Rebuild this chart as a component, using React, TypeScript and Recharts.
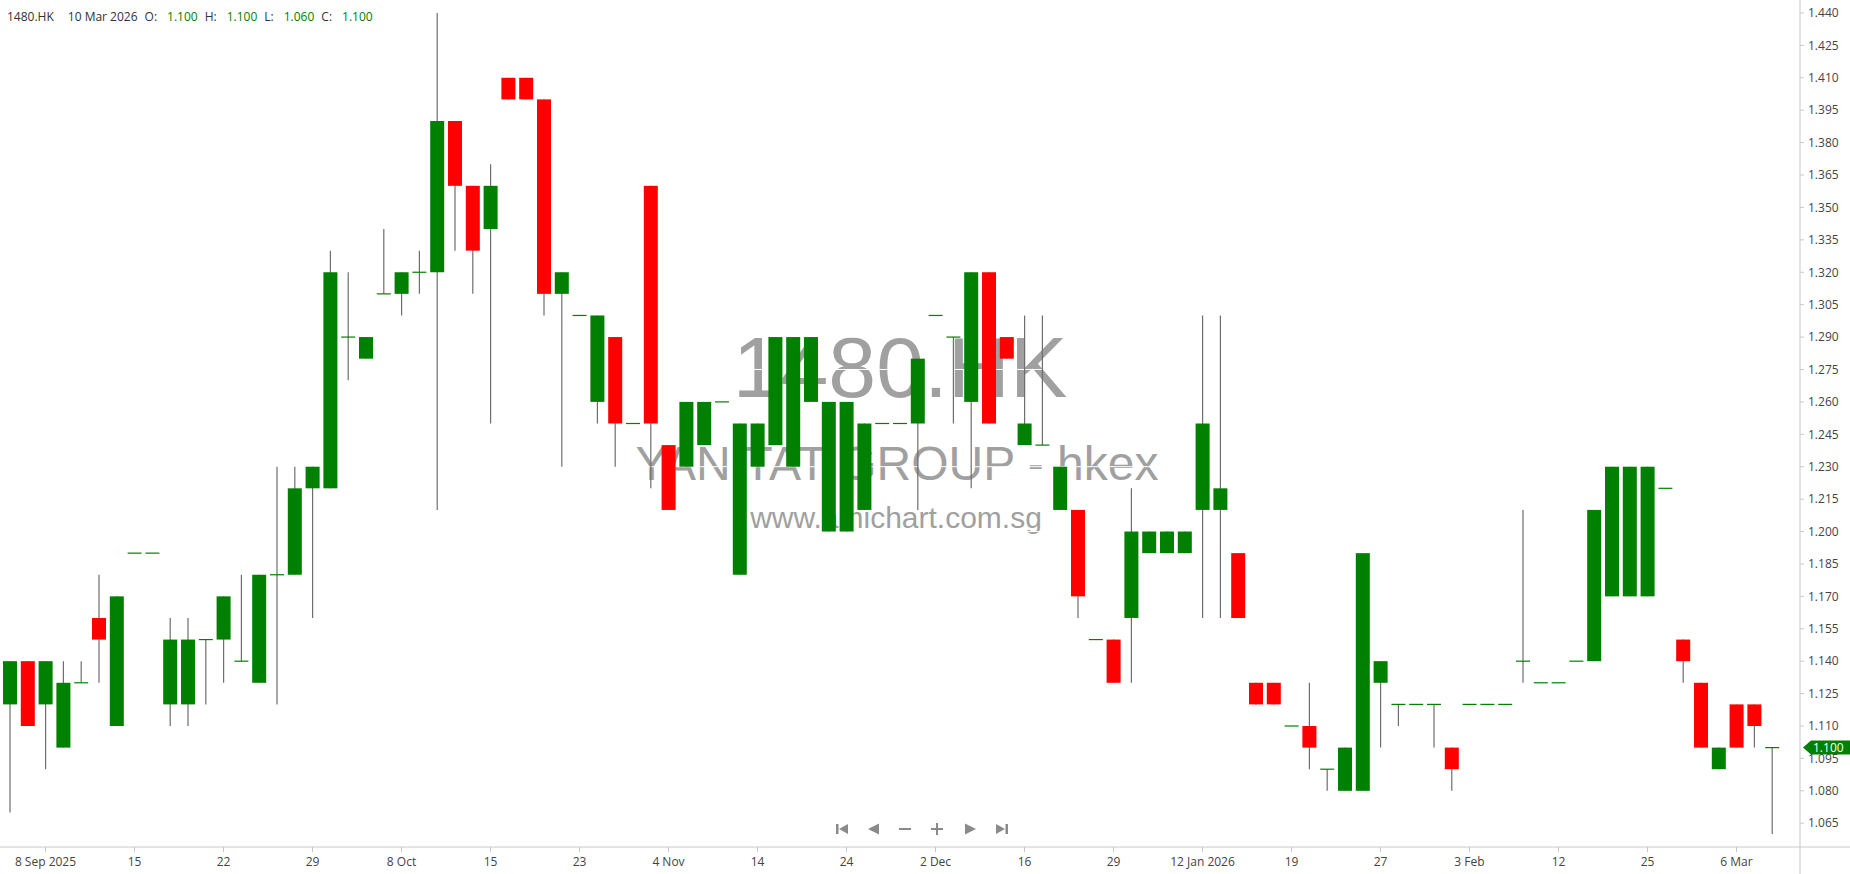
import React from 'react'
import { ComposedChart, Bar, XAxis, YAxis, ReferenceLine, CartesianGrid } from 'recharts'

// daily candles, 4 Sep 2025 .. 10 Mar 2026 (index 0..99)
const OPEN = [
  1.12, 1.14, 1.12, 1.10, 1.13, 1.16, 1.11, 1.19, 1.19, 1.12,
  1.12, 1.15, 1.15, 1.14, 1.13, 1.18, 1.18, 1.22, 1.22, 1.29,
  1.28, 1.31, 1.31, 1.32, 1.32, 1.39, 1.36, 1.34, 1.41, 1.41,
  1.40, 1.31, 1.30, 1.26, 1.29, 1.25, 1.36, 1.24, 1.23, 1.24,
  1.26, 1.18, 1.23, 1.24, 1.23, 1.26, 1.20, 1.20, 1.21, 1.25,
  1.25, 1.25, 1.30, 1.29, 1.26, 1.32, 1.29, 1.24, 1.24, 1.21,
  1.21, 1.15, 1.15, 1.16, 1.19, 1.19, 1.19, 1.21, 1.21, 1.19,
  1.13, 1.13, 1.11, 1.11, 1.09, 1.08, 1.08, 1.13, 1.12, 1.12,
  1.12, 1.10, 1.12, 1.12, 1.12, 1.14, 1.13, 1.13, 1.14, 1.14,
  1.17, 1.17, 1.17, 1.22, 1.15, 1.13, 1.09, 1.12, 1.12, 1.10,
]
const HIGH = [
  1.14, 1.14, 1.14, 1.14, 1.14, 1.18, 1.17, 1.19, 1.19, 1.16,
  1.16, 1.15, 1.17, 1.18, 1.18, 1.23, 1.23, 1.23, 1.33, 1.32,
  1.29, 1.34, 1.32, 1.33, 1.44, 1.39, 1.36, 1.37, 1.41, 1.41,
  1.40, 1.32, 1.30, 1.30, 1.29, 1.25, 1.36, 1.24, 1.26, 1.26,
  1.26, 1.25, 1.25, 1.29, 1.29, 1.29, 1.26, 1.26, 1.25, 1.25,
  1.25, 1.28, 1.30, 1.29, 1.32, 1.32, 1.29, 1.30, 1.30, 1.23,
  1.21, 1.15, 1.15, 1.22, 1.20, 1.20, 1.20, 1.30, 1.30, 1.19,
  1.13, 1.13, 1.11, 1.13, 1.09, 1.10, 1.19, 1.14, 1.12, 1.12,
  1.12, 1.10, 1.12, 1.12, 1.12, 1.21, 1.13, 1.13, 1.14, 1.21,
  1.23, 1.23, 1.23, 1.22, 1.15, 1.13, 1.10, 1.12, 1.12, 1.10,
]
const LOW = [
  1.07, 1.11, 1.09, 1.10, 1.13, 1.13, 1.11, 1.19, 1.19, 1.11,
  1.11, 1.12, 1.13, 1.14, 1.13, 1.12, 1.18, 1.16, 1.22, 1.27,
  1.28, 1.31, 1.30, 1.31, 1.21, 1.33, 1.31, 1.25, 1.40, 1.40,
  1.30, 1.23, 1.30, 1.25, 1.23, 1.25, 1.22, 1.21, 1.23, 1.24,
  1.26, 1.18, 1.23, 1.24, 1.23, 1.26, 1.20, 1.20, 1.21, 1.25,
  1.25, 1.21, 1.30, 1.25, 1.22, 1.25, 1.28, 1.24, 1.24, 1.21,
  1.16, 1.15, 1.13, 1.13, 1.19, 1.19, 1.19, 1.16, 1.16, 1.16,
  1.12, 1.12, 1.11, 1.09, 1.08, 1.08, 1.08, 1.10, 1.11, 1.12,
  1.10, 1.08, 1.12, 1.12, 1.12, 1.13, 1.13, 1.13, 1.14, 1.14,
  1.17, 1.17, 1.17, 1.22, 1.13, 1.10, 1.09, 1.10, 1.10, 1.06,
]
const CLOSE = [
  1.14, 1.11, 1.14, 1.13, 1.13, 1.15, 1.17, 1.19, 1.19, 1.15,
  1.15, 1.15, 1.17, 1.14, 1.18, 1.18, 1.22, 1.23, 1.32, 1.29,
  1.29, 1.31, 1.32, 1.32, 1.39, 1.36, 1.33, 1.36, 1.40, 1.40,
  1.31, 1.32, 1.30, 1.30, 1.25, 1.25, 1.25, 1.21, 1.26, 1.26,
  1.26, 1.25, 1.25, 1.29, 1.29, 1.29, 1.26, 1.26, 1.25, 1.25,
  1.25, 1.28, 1.30, 1.29, 1.32, 1.25, 1.28, 1.25, 1.24, 1.23,
  1.17, 1.15, 1.13, 1.20, 1.20, 1.20, 1.20, 1.25, 1.22, 1.16,
  1.12, 1.12, 1.11, 1.10, 1.09, 1.10, 1.19, 1.14, 1.12, 1.12,
  1.12, 1.09, 1.12, 1.12, 1.12, 1.14, 1.13, 1.13, 1.14, 1.21,
  1.23, 1.23, 1.23, 1.22, 1.14, 1.10, 1.10, 1.10, 1.11, 1.10,
]

const TICK_INDEX = [2, 7, 12, 17, 22, 27, 32, 37, 42, 47, 52, 57, 62, 67, 72, 77, 82, 87, 92, 97]
const TICK_LABELS = [
  '8 Sep 2025', '15', '22', '29', '8 Oct', '15', '23', '4 Nov', '14', '24',
  '2 Dec', '16', '29', '12 Jan 2026', '19', '27', '3 Feb', '12', '25', '6 Mar',
]
const PRICE_TICKS = [
  1.065, 1.08, 1.095, 1.11, 1.125, 1.14, 1.155, 1.17, 1.185, 1.2, 1.215, 1.23, 1.245,
  1.26, 1.275, 1.29, 1.305, 1.32, 1.335, 1.35, 1.365, 1.38, 1.395, 1.41, 1.425, 1.44,
]

const UP = '#008000'
const DOWN = '#ff0000'
const WICK = '#6e6e6e'
const AXIS = '#c8c8c8'
const FONT = '"Open Sans", sans-serif'

const data = OPEN.map((o, i) => ({ i, open: o, high: HIGH[i], low: LOW[i], close: CLOSE[i] }))
const last = data[data.length - 1]

function Candle(props: any) {
  const { x, y, width, height, payload } = props
  if (x == null || y == null) return null
  const top = Math.min(y, y + height)
  const bottom = Math.max(y, y + height)
  const { open, high, low, close } = payload
  const span = high - low
  // linear map inside the high/low range the library already placed
  const toY = (v: number) => (span > 0 ? top + ((high - v) / span) * (bottom - top) : top)
  const cx = x + width / 2
  const color = close >= open ? UP : DOWN
  const bTop = toY(Math.max(open, close))
  const bBot = toY(Math.min(open, close))
  return (
    <g>
      {span > 0 && <line x1={cx} x2={cx} y1={top} y2={bottom} stroke={WICK} strokeWidth={1.2} />}
      {bBot - bTop >= 1 ? (
        <rect x={x} y={bTop} width={width} height={bBot - bTop} fill={color} />
      ) : (
        <line x1={x} x2={x + width} y1={bTop} y2={bTop} stroke={color} strokeWidth={1.2} />
      )}
    </g>
  )
}

function PriceFlag({ viewBox, value }: any) {
  if (!viewBox) return null
  const x = viewBox.x + viewBox.width + 3
  const y = viewBox.y
  return (
    <g>
      <polygon
        points={`${x},${y} ${x + 8},${y - 7} ${x + 48},${y - 7} ${x + 48},${y + 7} ${x + 8},${y + 7}`}
        fill={UP}
      />
      <text x={x + 10} y={y + 4} fill="#fff" fontSize={12} fontFamily={FONT}>
        {value}
      </text>
    </g>
  )
}

function NavIcons() {
  const c = '#8a8a8a'
  const cy = 829
  return (
    <svg width={1850} height={874} style={{ position: 'absolute', left: 0, top: 0, pointerEvents: 'none' }}>
      <line x1={1800} x2={1800} y1={847} y2={874} stroke={AXIS} />
      <line x1={1800} x2={1850} y1={847} y2={847} stroke={AXIS} />
      <rect x={836} y={cy - 5} width={2.5} height={10} fill={c} />
      <polygon points={`${839},${cy} ${848},${cy - 5} ${848},${cy + 5}`} fill={c} />
      <polygon points={`${868},${cy} ${879},${cy - 5.5} ${879},${cy + 5.5}`} fill={c} />
      <rect x={899} y={cy - 1} width={12} height={2} fill={c} />
      <rect x={931} y={cy - 1} width={12} height={2} fill={c} />
      <rect x={936} y={cy - 6} width={2} height={12} fill={c} />
      <polygon points={`${976},${cy} ${965},${cy - 5.5} ${965},${cy + 5.5}`} fill={c} />
      <polygon points={`${1005},${cy} ${996},${cy - 5} ${996},${cy + 5}`} fill={c} />
      <rect x={1005.5} y={cy - 5} width={2.5} height={10} fill={c} />
    </svg>
  )
}

export default function App() {
  const fmt = (v: number) => v.toFixed(3)
  return (
    <div style={{ position: 'absolute', left: 0, top: 0, width: 1850, height: 874, background: '#fff', overflow: 'hidden' }}>
      {/* watermark, behind the grid and candles */}
      <svg width={1850} height={874} style={{ position: 'absolute', left: 0, top: 0 }}>
        <g fill="#a0a0a0" fontFamily='"Liberation Sans", Arial, sans-serif' textAnchor="middle">
          <text x={900} y={397} fontSize={86}>1480.HK</text>
          <text x={897} y={480} fontSize={48}>YAN TAT GROUP - hkex</text>
          <text x={896} y={528} fontSize={30}>www.amichart.com.sg</text>
        </g>
      </svg>

      <div style={{ position: 'absolute', left: 0, top: 0 }}>
        <ComposedChart width={1850} height={874} data={data} margin={{ top: 0, right: 0, bottom: 0, left: 0 }}>
          {/* white grid only shows where it crosses the watermark */}
          <CartesianGrid vertical={false} stroke="#ffffff" strokeWidth={1} />
          <XAxis
            dataKey="i"
            type="category"
            ticks={TICK_INDEX}
            interval={0}
            tickFormatter={(v: number) => TICK_LABELS[TICK_INDEX.indexOf(v)]}
            padding={{ left: 1, right: 19 }}
            height={27}
            axisLine={{ stroke: AXIS }}
            tickLine={{ stroke: AXIS }}
            tickSize={5}
            tickMargin={5}
            tick={{ fill: '#444', fontSize: 12, fontFamily: FONT }}
          />
          <YAxis
            orientation="right"
            type="number"
            domain={[1.054, 1.446]}
            allowDataOverflow
            ticks={PRICE_TICKS}
            interval={0}
            tickFormatter={fmt}
            width={50}
            axisLine={{ stroke: AXIS }}
            tickLine={{ stroke: AXIS }}
            tickSize={4}
            tickMargin={4}
            tick={{ fill: '#444', fontSize: 12, fontFamily: FONT }}
          />
          <Bar
            dataKey={(d: any) => [d.low, d.high]}
            barSize={14}
            isAnimationActive={false}
            shape={(p: any) => <Candle {...p} />}
          />
          <ReferenceLine
            y={last.close}
            stroke="none"
            label={(p: any) => <PriceFlag viewBox={p.viewBox} value={fmt(last.close)} />}
          />
        </ComposedChart>
      </div>

      <NavIcons />

      <div style={{ position: 'absolute', left: 7, top: 9, fontFamily: FONT, fontSize: 12, lineHeight: '16px', color: '#333', whiteSpace: 'pre' }}>
        <span>1480.HK</span>
        <span style={{ marginLeft: 14 }}>10 Mar 2026</span>
        <span style={{ marginLeft: 7 }}>O:</span>
        <span style={{ marginLeft: 10, color: UP }}>{fmt(last.open)}</span>
        <span style={{ marginLeft: 7 }}>H:</span>
        <span style={{ marginLeft: 10, color: UP }}>{fmt(last.high)}</span>
        <span style={{ marginLeft: 7 }}>L:</span>
        <span style={{ marginLeft: 10, color: UP }}>{fmt(last.low)}</span>
        <span style={{ marginLeft: 7 }}>C:</span>
        <span style={{ marginLeft: 10, color: UP }}>{fmt(last.close)}</span>
      </div>
    </div>
  )
}
